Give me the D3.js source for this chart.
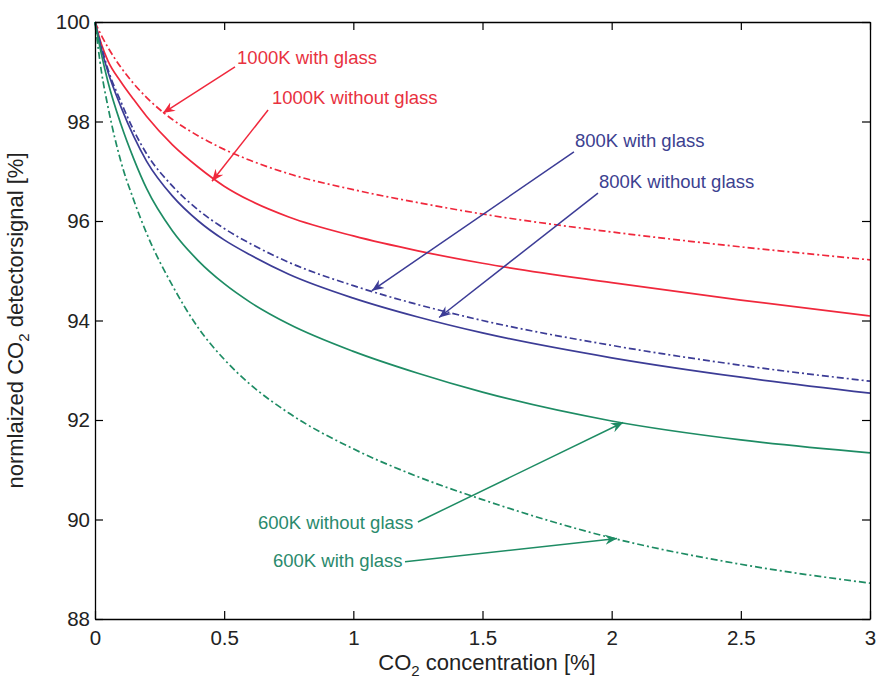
<!DOCTYPE html>
<html>
<head>
<meta charset="utf-8">
<script src="https://cdn.jsdelivr.net/npm/d3@7"></script>
<style>
  body { margin: 0; background: #fff; }
  text { font-family: "Liberation Sans", Arial, Helvetica, sans-serif; }
</style>
</head>
<body>
<div id="main"></div>
<script>

// CO2 concentration [%]
var xs = [0, 0.025, 0.05, 0.1, 0.15, 0.2, 0.3, 0.4, 0.5, 0.6, 0.75, 1, 1.25, 1.5, 2, 2.5, 3];

// normalized detector signal [%], one array per curve
var k1000Glass   = [100, 99.725, 99.49, 99.09, 98.76, 98.48, 98.04, 97.71, 97.44, 97.22, 96.95, 96.63, 96.37, 96.14, 95.78, 95.48, 95.22];
var k1000NoGlass = [100, 99.55, 99.22, 98.8, 98.44, 98.1, 97.53, 97.08, 96.7, 96.41, 96.08, 95.7, 95.4, 95.15, 94.76, 94.41, 94.09];
var k800Glass    = [100, 99.5, 99.05, 98.4, 97.82, 97.35, 96.7, 96.22, 95.85, 95.55, 95.17, 94.7, 94.32, 94.0, 93.5, 93.1, 92.78];
var k800NoGlass  = [100, 99.45, 99.0, 98.3, 97.7, 97.2, 96.5, 96.0, 95.62, 95.32, 94.93, 94.45, 94.07, 93.75, 93.25, 92.86, 92.54];
var k600NoGlass  = [100, 99.35, 98.8, 97.95, 97.25, 96.65, 95.8, 95.2, 94.74, 94.37, 93.93, 93.38, 92.94, 92.56, 91.98, 91.6, 91.34];
var k600Glass    = [100, 99.0, 98.3, 97.2, 96.42, 95.75, 94.7, 93.85, 93.22, 92.72, 92.14, 91.42, 90.86, 90.4, 89.63, 89.1, 88.72];

var xTicks = [0, 0.5, 1, 1.5, 2, 2.5, 3];
var yTicks = [88, 90, 92, 94, 96, 98, 100];

// annotation labels: text anchor and arrow, in data units
var labels = [
  { text: "1000K with glass",    c: "red",   tx: 0.55,  ty: 99.16, fx: 0.542, fy: 99.10, ax: 0.263, ay: 98.17 },
  { text: "1000K without glass", c: "red",   tx: 0.685, ty: 98.35, fx: 0.670, fy: 98.23, ax: 0.453, ay: 96.80 },
  { text: "800K with glass",     c: "blue",  tx: 1.858, ty: 97.49, fx: 1.854, fy: 97.39, ax: 1.072, ay: 94.60 },
  { text: "800K without glass",  c: "blue",  tx: 1.951, ty: 96.66, fx: 1.947, fy: 96.56, ax: 1.332, ay: 94.06 },
  { text: "600K without glass",  c: "green", tx: 0.631, ty: 89.81, fx: 1.250, fy: 89.95, ax: 2.044, ay: 91.95 },
  { text: "600K with glass",     c: "green", tx: 0.689, ty: 89.05, fx: 1.200, fy: 89.15, ax: 2.021, ay: 89.62 }
];

var colors = { red: "#f0283c", blue: "#3c3c96", green: "#1e8c64" };
var textColors = { red: "#e8323f", blue: "#3c4190", green: "#2a8a6c" };

var series = [
  { v: k1000Glass,   c: "red",   dash: true },
  { v: k1000NoGlass, c: "red",   dash: false },
  { v: k800Glass,    c: "blue",  dash: true },
  { v: k800NoGlass,  c: "blue",  dash: false },
  { v: k600NoGlass,  c: "green", dash: false },
  { v: k600Glass,    c: "green", dash: true }
];

var w = 877, h = 679;
var m = { left: 95, right: 7, top: 22, bottom: 60 };

var svg = d3.select("#main").append("svg")
    .attr("width", w)
    .attr("height", h);

var x = d3.scaleLinear().domain([0, 3]).range([m.left, w - m.right]);
var y = d3.scaleLinear().domain([88, 100]).range([h - m.bottom, m.top]);

// arrow heads
var defs = svg.append("defs");
Object.keys(colors).forEach(function(k) {
  defs.append("marker")
      .attr("id", "head-" + k)
      .attr("viewBox", "-12 -6 14 12")
      .attr("refX", 0).attr("refY", 0)
      .attr("markerWidth", 14).attr("markerHeight", 12)
      .attr("markerUnits", "userSpaceOnUse")
      .attr("orient", "auto")
    .append("path")
      .attr("d", "M0,0 L-12,-5 L-8,0 L-12,5 Z")
      .attr("fill", colors[k]);
});

// curves
var line = d3.line()
    .x(function(d, i) { return x(xs[i]); })
    .y(function(d) { return y(d); })
    .curve(d3.curveMonotoneX);

svg.append("g").selectAll("path")
    .data(series)
    .enter()
    .append("path")
    .attr("d", function(s) { return line(s.v); })
    .attr("fill", "none")
    .attr("stroke", function(s) { return colors[s.c]; })
    .attr("stroke-width", 1.7)
    .attr("stroke-dasharray", function(s) { return s.dash ? "7,3,2,3" : null; });

// axes, MATLAB style box with inward ticks
function styleAxis(g) {
  g.select(".domain").attr("stroke", "#000").attr("stroke-width", 1.3);
  g.selectAll(".tick line").attr("stroke", "#000").attr("stroke-width", 1.2);
  g.selectAll("text").attr("fill", "#222").attr("font-size", 20.5)
      .style("font-family", "'Liberation Sans', Arial, sans-serif");
}

svg.append("g")
    .attr("transform", "translate(0," + (h - m.bottom) + ")")
    .call(d3.axisBottom(x).tickValues(xTicks).tickSizeInner(-8).tickSizeOuter(0).tickPadding(11)
      .tickFormat(d3.format("")))
    .call(styleAxis);

svg.append("g")
    .attr("transform", "translate(0," + m.top + ")")
    .call(d3.axisTop(x).tickValues(xTicks).tickSizeInner(-8).tickSizeOuter(0).tickFormat(""))
    .call(styleAxis);

svg.append("g")
    .attr("transform", "translate(" + m.left + ",0)")
    .call(d3.axisLeft(y).tickValues(yTicks).tickSizeInner(-8).tickSizeOuter(0).tickPadding(5))
    .call(styleAxis);

svg.append("g")
    .attr("transform", "translate(" + (w - m.right) + ",0)")
    .call(d3.axisRight(y).tickValues(yTicks).tickSizeInner(-8).tickSizeOuter(0).tickFormat(""))
    .call(styleAxis);

// axis labels
var xl = svg.append("text")
    .attr("x", 487)
    .attr("y", 670)
    .attr("text-anchor", "middle")
    .attr("font-size", 22)
    .attr("fill", "#222");
xl.append("tspan").text("CO");
xl.append("tspan").attr("dy", 6).attr("font-size", 15).text("2");
xl.append("tspan").attr("dy", -6).text(" concentration [%]");

var yl = svg.append("text")
    .attr("transform", "translate(23," + ((m.top + h - m.bottom) / 2) + ") rotate(-90)")
    .attr("text-anchor", "middle")
    .attr("font-size", 22)
    .attr("fill", "#222");
yl.append("tspan").text("normlaized CO");
yl.append("tspan").attr("dy", 6).attr("font-size", 15).text("2");
yl.append("tspan").attr("dy", -6).text(" detectorsignal [%]");

// annotations
var ann = svg.append("g");
ann.selectAll("line")
    .data(labels)
    .enter()
    .append("line")
    .attr("x1", function(d) { return x(d.fx); })
    .attr("y1", function(d) { return y(d.fy); })
    .attr("x2", function(d) { return x(d.ax); })
    .attr("y2", function(d) { return y(d.ay); })
    .attr("stroke", function(d) { return colors[d.c]; })
    .attr("stroke-width", 1.5)
    .attr("marker-end", function(d) { return "url(#head-" + d.c + ")"; });

ann.selectAll("text")
    .data(labels)
    .enter()
    .append("text")
    .attr("x", function(d) { return x(d.tx); })
    .attr("y", function(d) { return y(d.ty); })
    .attr("font-size", 18.5)
    .attr("fill", function(d) { return textColors[d.c]; })
    .text(function(d) { return d.text; });

</script>
</body>
</html>
